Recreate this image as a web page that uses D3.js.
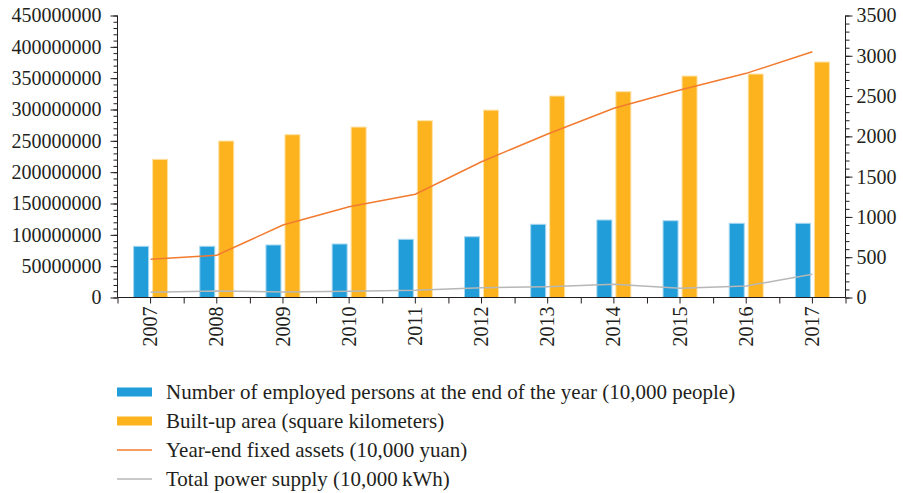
<!DOCTYPE html>
<html>
<head>
<meta charset="utf-8">
<script src="https://cdn.jsdelivr.net/npm/d3@7"></script>
<style>
  body { margin: 0; background: #fff; }
  svg text { font-family: "Liberation Serif", "Times New Roman", Times, serif !important; fill: #231f20; }
  .axis path, .axis line { stroke: #231f20; }
</style>
</head>
<body>
<div id="chart-area"></div>
<script>
// chart data
var years = ["2007", "2008", "2009", "2010", "2011", "2012", "2013", "2014", "2015", "2016", "2017"];
var employed = [81700000, 81700000, 83800000, 85400000, 92900000, 97000000, 116800000, 123700000, 122500000, 118400000, 118400000];
var builtArea = [220500000, 249700000, 259800000, 272000000, 282100000, 299000000, 321500000, 328400000, 353400000, 356600000, 375800000];
var fixedAssets = [474, 524, 900, 1127, 1281, 1685, 2029, 2348, 2575, 2782, 3050];
var powerSupply = [65, 81, 68, 77, 89, 122, 134, 164, 114, 143, 288];

var leftTicks = [0, 50000000, 100000000, 150000000, 200000000, 250000000, 300000000, 350000000, 400000000, 450000000];
var rightTicks = [0, 500, 1000, 1500, 2000, 2500, 3000, 3500];

var legendLabels = [
    "Number of employed persons at the end of the year (10,000 people)",
    "Built-up area (square kilometers)",
    "Year-end fixed assets (10,000 yuan)",
    "Total power supply (10,000\u2009kWh)"
];

var colors = { blue: "#219dd9", orange: "#fcb31e", line: "#f27b2f", gray: "#b7b7b7" };
var serif = "'Liberation Serif', 'Times New Roman', Times, serif";

// drawing area
var chartWidth = 903, chartHeight = 493;
var margin = { top: 15.5, left: 117.5, right: 57.5, bottom: 195.5 };
var width = chartWidth - margin.left - margin.right,
    height = chartHeight - margin.top - margin.bottom;

var svg = d3.select("#chart-area").append("svg")
    .attr("width", chartWidth)
    .attr("height", chartHeight)
    .attr("font-family", serif);

var g = svg.append("g")
    .attr("transform", "translate(" + margin.left + "," + margin.top + ")");

// scales
var x = d3.scaleBand().domain(years).range([0, width]);
var xEdge = d3.scaleLinear().domain([0, years.length]).range([0, width]);
var xSub = d3.scaleBand().domain(["employed", "area"])
    .range([x.bandwidth() / 2 - 17, x.bandwidth() / 2 + 17])
    .paddingInner(0.21);

var yLeft = d3.scaleLinear().domain([0, 450000000]).range([height, 0]);
var yRight = d3.scaleLinear().domain([0, 3500]).range([height, 0]);

// bars
var groups = g.selectAll(".year")
    .data(years)
    .enter().append("g")
    .attr("class", "year")
    .attr("transform", function(d) { return "translate(" + x(d) + ",0)"; });

groups.append("rect")
    .attr("x", xSub("employed"))
    .attr("width", xSub.bandwidth())
    .attr("y", function(d, i) { return yLeft(employed[i]); })
    .attr("height", function(d, i) { return height - yLeft(employed[i]); })
    .attr("fill", colors.blue)
    .attr("stroke", "#a7d8f0")
    .attr("stroke-width", 1);

groups.append("rect")
    .attr("x", xSub("area"))
    .attr("width", xSub.bandwidth())
    .attr("y", function(d, i) { return yLeft(builtArea[i]); })
    .attr("height", function(d, i) { return height - yLeft(builtArea[i]); })
    .attr("fill", colors.orange)
    .attr("stroke", "#fde2a6")
    .attr("stroke-width", 1);

// lines on the right axis
var line = d3.line()
    .x(function(d, i) { return x(years[i]) + x.bandwidth() / 2; })
    .y(function(d) { return yRight(d); });

g.append("path")
    .datum(powerSupply)
    .attr("fill", "none")
    .attr("stroke", colors.gray)
    .attr("stroke-width", 1.5)
    .attr("d", line);

g.append("path")
    .datum(fixedAssets)
    .attr("fill", "none")
    .attr("stroke", colors.line)
    .attr("stroke-width", 1.5)
    .attr("d", line);

// left axis
g.append("g")
    .attr("class", "axis")
    .call(d3.axisLeft(yLeft).tickValues(d3.range(0, 450000001, 10000000)).tickSize(4).tickFormat(""))
    .select(".domain").remove();

g.append("g")
    .attr("class", "axis")
    .call(d3.axisLeft(yLeft).tickValues(leftTicks).tickSize(7).tickPadding(9).tickFormat(d3.format("d")))
    .call(function(a) { a.select(".domain").attr("d", "M0," + height + "V0"); })
    .selectAll("text")
    .style("font-family", serif)
    .style("font-size", "20px");

// right axis
var gRight = g.append("g").attr("transform", "translate(" + width + ",0)");
gRight.append("g")
    .attr("class", "axis")
    .call(d3.axisRight(yRight).tickValues(d3.range(0, 3501, 100)).tickSize(4).tickFormat(""))
    .select(".domain").remove();

gRight.append("g")
    .attr("class", "axis")
    .call(d3.axisRight(yRight).tickValues(rightTicks).tickSize(7).tickPadding(4).tickFormat(d3.format("d")))
    .call(function(a) { a.select(".domain").attr("d", "M0," + height + "V0"); })
    .selectAll("text")
    .style("font-family", serif)
    .style("font-size", "20px");

// x axis: ticks at band edges and centres
var gx = g.append("g").attr("transform", "translate(0," + height + ")");
gx.append("g")
    .attr("class", "axis")
    .call(d3.axisBottom(xEdge).tickValues(d3.range(0, years.length + 1)).tickSize(6).tickFormat(""))
    .select(".domain").attr("d", "M0,0H" + width);

gx.append("g")
    .attr("class", "axis")
    .call(d3.axisBottom(x).tickSize(6).tickPadding(8))
    .call(function(a) { a.select(".domain").remove(); })
    .selectAll("text")
    .style("font-family", serif)
    .style("font-size", "20px")
    .attr("text-anchor", "end")
    .attr("transform", "rotate(-90)")
    .attr("x", -9)
    .attr("y", 0)
    .attr("dy", "0.33em");

// legend
var legend = svg.append("g").attr("transform", "translate(117,392)");
var rowH = 29;

legendLabels.forEach(function(label, i) {
    var row = legend.append("g").attr("transform", "translate(0," + (i * rowH) + ")");
    if (i < 2) {
        row.append("rect")
            .attr("x", 0).attr("y", -4.5)
            .attr("width", 35).attr("height", 9)
            .attr("fill", i === 0 ? colors.blue : colors.orange);
    } else {
        row.append("line")
            .attr("x1", 0).attr("x2", 35)
            .attr("y1", 0).attr("y2", 0)
            .attr("stroke", i === 2 ? colors.line : colors.gray)
            .attr("stroke-width", 1.5);
    }
    row.append("text")
        .attr("x", 49)
        .attr("y", 0)
        .attr("dy", "0.33em")
        .style("font-family", serif)
        .style("font-size", "21px")
        .text(label);
});
</script>
</body>
</html>
